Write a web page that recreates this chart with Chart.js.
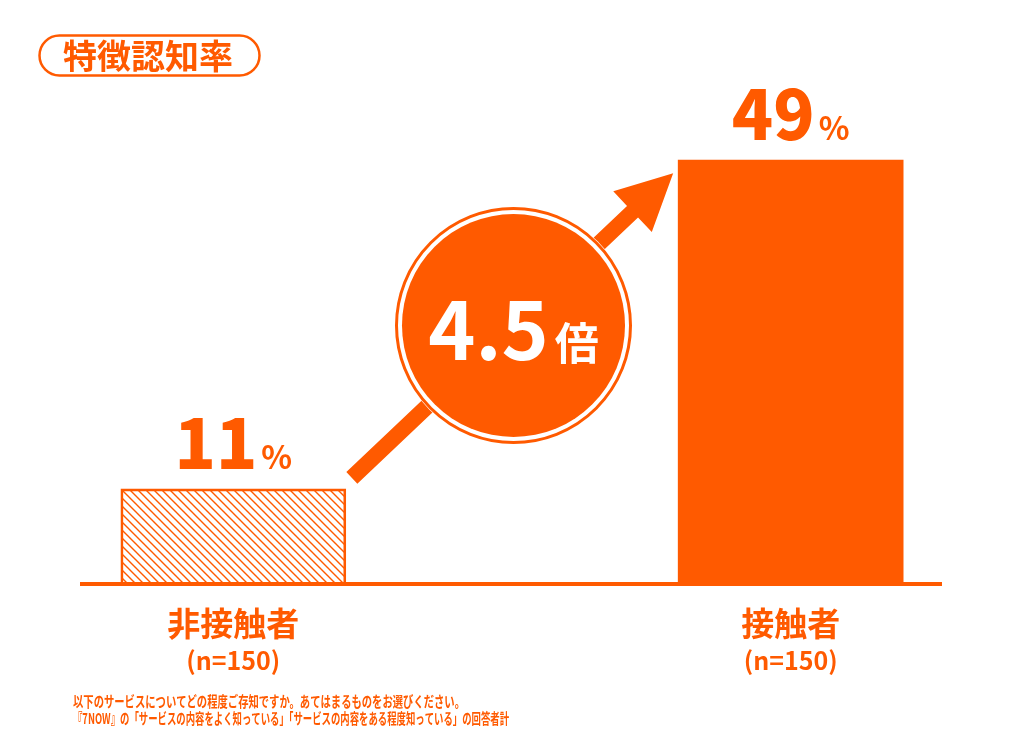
<!DOCTYPE html>
<html lang="ja">
<head>
<meta charset="utf-8">
<title>特徴認知率</title>
<script src="https://cdn.jsdelivr.net/npm/chart.js@4"></script>
<style>
html,body{margin:0;padding:0;background:#fff;}
canvas{display:block;}
</style>
</head>
<body>
<canvas id="myChart" width="1024" height="732"></canvas>
<script>
// data
var categories=['非接触者','接触者'];
var sampleSizes=['(n=150)','(n=150)'];
var rates=[11,49];
var multiplier='4.5';
var title='特徴認知率';
var notes=[
'以下のサービスについてどの程度ご存知ですか。あてはまるものをお選びください。',
'『7NOW』の「サービスの内容をよく知っている」「サービスの内容をある程度知っている」の回答者計'
];

var ORANGE='#ff5a00';
var FONT='"Noto Sans CJK JP","Noto Sans",sans-serif';

// hatch for the first bar
function hatch(){
var c=document.createElement('canvas');
c.width=8;c.height=8;
var x=c.getContext('2d');
x.strokeStyle=ORANGE;
x.lineWidth=1.4;
x.beginPath();
x.moveTo(-1,-1);x.lineTo(9,9);
x.moveTo(-1,7);x.lineTo(1,9);
x.moveTo(7,-1);x.lineTo(9,1);
x.stroke();
return x.createPattern(c,'repeat');
}

// a spacer category sits between the two bars
var labels=[categories[0],'',categories[1]];
var values=[rates[0],null,rates[1]];

var decor={
id:'decor',
afterDatasetsDraw:function(chart){
var ctx=chart.ctx;
var area=chart.chartArea;
var meta=chart.getDatasetMeta(0);
var b1=meta.data[0],b2=meta.data[2];
var w=b1.width;
ctx.save();

// baseline
ctx.fillStyle=ORANGE;
ctx.fillRect(80,area.bottom-2,862,4);

// value labels
[[b1,rates[0]],[b2,rates[1]]].forEach(function(p){
var bar=p[0];
ctx.font='900 68px '+FONT;
var num=String(p[1]);
var nw=ctx.measureText(num).width;
ctx.font='700 32px '+FONT;
var pw=ctx.measureText('%').width;
var gap=4;
var x0=bar.x-(nw+gap+pw)/2;
var y=bar.y-20;
ctx.textBaseline='alphabetic';
ctx.textAlign='left';
ctx.fillStyle=ORANGE;
ctx.font='900 68px '+FONT;
ctx.fillText(num,x0,y);
ctx.font='700 32px '+FONT;
ctx.fillText('%',x0+nw+gap,y);
});

// category labels
ctx.textAlign='center';
ctx.textBaseline='middle';
[b1,b2].forEach(function(bar,i){
ctx.font='700 33px '+FONT;
ctx.fillText(categories[i],bar.x,623);
ctx.font='700 25px '+FONT;
ctx.fillText(sampleSizes[i],bar.x,660);
});

// arrow from the low bar to the high bar
var tx=b1.x+w/2+6,ty=b1.y-11;
var hx=b2.x-w/2-5,hy=b2.y+13;
var dx=hx-tx,dy=hy-ty,len=Math.sqrt(dx*dx+dy*dy);
var ux=dx/len,uy=dy/len,nx=-uy,ny=ux;
var headL=56,headW=28,shaft=8;
var bx=hx-ux*headL,by=hy-uy*headL;
ctx.beginPath();
ctx.moveTo(tx+nx*shaft,ty+ny*shaft);
ctx.lineTo(bx+nx*shaft,by+ny*shaft);
ctx.lineTo(bx+nx*headW,by+ny*headW);
ctx.lineTo(hx,hy);
ctx.lineTo(bx-nx*headW,by-ny*headW);
ctx.lineTo(bx-nx*shaft,by-ny*shaft);
ctx.lineTo(tx-nx*shaft,ty-ny*shaft);
ctx.closePath();
ctx.fill();

// circle badge
var cx=(tx+hx)/2+1,cy=(ty+hy)/2;
ctx.beginPath();ctx.arc(cx,cy,119,0,Math.PI*2);
ctx.fillStyle='#fff';ctx.fill();
ctx.beginPath();ctx.arc(cx,cy,117,0,Math.PI*2);
ctx.lineWidth=3;ctx.strokeStyle=ORANGE;ctx.stroke();
ctx.beginPath();ctx.arc(cx,cy,111.5,0,Math.PI*2);
ctx.fillStyle=ORANGE;ctx.fill();

ctx.fillStyle='#fff';
ctx.textAlign='left';
ctx.textBaseline='alphabetic';
ctx.font='700 80px '+FONT;
var mw=ctx.measureText(multiplier).width;
ctx.font='700 44px '+FONT;
var kw=ctx.measureText('倍').width;
var gx=cx-(mw+6+kw)/2;
ctx.font='700 80px '+FONT;
ctx.fillText(multiplier,gx,cy+34);
ctx.font='700 44px '+FONT;
ctx.fillText('倍',gx+mw+6,cy+34);

// title pill
ctx.beginPath();
ctx.roundRect(39.5,35.5,220,40,20);
ctx.lineWidth=2.5;ctx.strokeStyle=ORANGE;ctx.stroke();
ctx.fillStyle=ORANGE;
ctx.textAlign='center';
ctx.textBaseline='middle';
ctx.font='700 34px '+FONT;
ctx.fillText(title,148,56);

// notes
ctx.textAlign='left';
ctx.font='700 15px '+FONT;
ctx.fillText(notes[0],73,701,392);
ctx.fillText(notes[1],73,718,436);

ctx.restore();
}
};

var chart=new Chart(document.getElementById('myChart'),{
type:'bar',
data:{
labels:labels,
datasets:[{
data:values,
backgroundColor:[hatch(),ORANGE,ORANGE],
borderColor:ORANGE,
borderWidth:[2,0,0],
barThickness:225
}]
},
options:{
responsive:false,
animation:false,
layout:{padding:{left:94,right:94,top:65,bottom:148}},
plugins:{legend:{display:false},tooltip:{enabled:false}},
scales:{
x:{display:false},
y:{display:false,min:0,max:60}
}
},
plugins:[decor]
});
</script>
</body>
</html>
